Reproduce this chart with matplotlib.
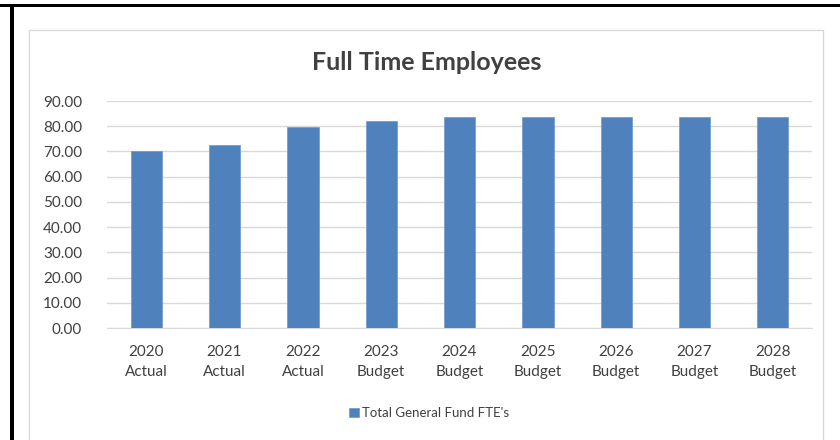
import numpy as np
import matplotlib
matplotlib.use("Agg")
import matplotlib.pyplot as plt
from matplotlib.patches import Rectangle

# data
years = ["2020", "2021", "2022", "2023", "2024", "2025", "2026", "2027", "2028"]
kinds = ["Actual", "Actual", "Actual", "Budget", "Budget", "Budget", "Budget", "Budget", "Budget"]
fte = [70.3, 72.4, 79.6, 82.1, 83.6, 83.6, 83.6, 83.6, 83.6]
yticks = [0, 10, 20, 30, 40, 50, 60, 70, 80, 90]

plt.rcParams['font.family'] = ['Lato', 'DejaVu Sans']
bar_color = "#4F81BD"
text_color = "#404040"

fig = plt.figure(figsize=(8.4, 4.4), dpi=100)
W, H = 840.0, 440.0

# outer black frame (top and left) and light grey chart border
fig.patches.append(Rectangle((0, 1 - 7.3 / H), 1, 3.3 / H, transform=fig.transFigure,
                             facecolor="black", edgecolor="none"))
fig.patches.append(Rectangle((10 / W, 0), 3.8 / W, 1 - 4 / H, transform=fig.transFigure,
                             facecolor="black", edgecolor="none"))
fig.patches.append(Rectangle((29 / W, -0.05), (823 - 29) / W, 1.05 - 30 / H,
                             transform=fig.transFigure, facecolor="none",
                             edgecolor="#D9D9D9", linewidth=1.0))

ax = fig.add_axes([107 / W, 1 - 328 / H, (812 - 107) / W, (328 - 101) / H])
x = np.arange(len(years))
ax.bar(x, fte, width=0.4, color=bar_color, edgecolor="#6F98CB", linewidth=0.5,
       label="Total General Fund FTE's", zorder=3)

ax.set_xlim(-0.5, len(years) - 0.5)
ax.set_ylim(0, 90)
ax.set_yticks(yticks)
ax.set_yticklabels(["%.2f" % v for v in yticks])
ax.set_xticks(x)
ax.set_xticklabels([y + "\n" + k for y, k in zip(years, kinds)], linespacing=1.55)
ax.grid(axis="y", color="#D9D9D9", linewidth=1.0, zorder=0)
for s in ["top", "right", "left"]:
    ax.spines[s].set_visible(False)
ax.spines["bottom"].set_color("#D9D9D9")
ax.tick_params(axis="both", length=0, labelsize=11, labelcolor=text_color)
ax.tick_params(axis="y", pad=18)
ax.tick_params(axis="x", pad=12)

# title and legend are centred on the chart area, not on the whole picture
cx = 427 / W
fig.text(cx, 1 - 62 / H, "Full Time Employees", ha="center", va="center",
         fontsize=18, fontweight="bold", color=text_color)

fig.legend(loc="center", bbox_to_anchor=(cx + 2 / W, 1 - 413 / H), frameon=False,
           fontsize=9.5, labelcolor=text_color, handlelength=0.75, handleheight=0.75,
           handletextpad=0.25)

fig.savefig("out.png", dpi=100)
